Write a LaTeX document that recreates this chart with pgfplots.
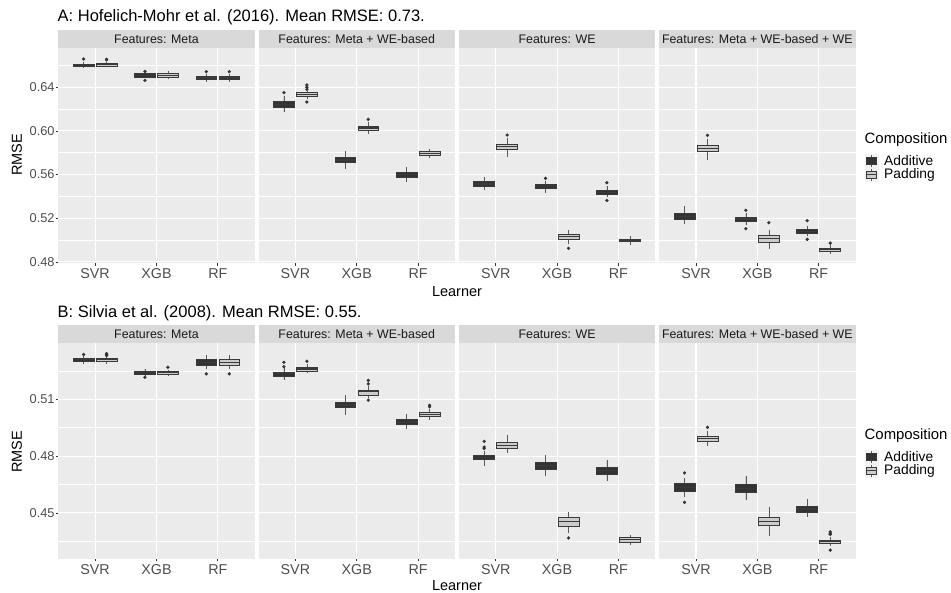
\documentclass[border=0pt]{standalone}
\usepackage{pgfplots}
\pgfplotsset{compat=1.18}
\usepgfplotslibrary{statistics}
\usepackage{fontspec}
\setmainfont{Liberation Sans}
\definecolor{panelbg}{HTML}{EBEBEB}
\definecolor{stripbg}{HTML}{D9D9D9}
\definecolor{ticktxt}{HTML}{4D4D4D}
\definecolor{tickcol}{HTML}{333333}
\definecolor{fillA}{HTML}{333333}
\definecolor{fillP}{HTML}{CCCCCC}
\definecolor{boxline}{HTML}{3A3A3A}
\definecolor{whisk}{HTML}{5A5A5A}
\definecolor{keybg}{HTML}{F2F2F2}
\pgfplotsset{
 panel/.style={
  scale only axis, width=196.3pt, xmin=0.4, xmax=3.6,
  xtick={1,2,3}, xticklabels={SVR,XGB,RF},
  axis background/.style={fill=panelbg},
  axis line style={draw=none},
  tick align=outside, major tick length=2.5pt, minor tick length=0pt,
  xtick pos=left, ytick pos=left,
  tick style={tickcol, line width=0.6pt},
  xmajorgrids, ymajorgrids, yminorgrids,
  major grid style={white, line width=1.1pt},
  minor grid style={white, line width=0.55pt},
  xticklabel style={font=\fontsize{14.3}{15}\selectfont, text=ticktxt, inner sep=0pt, yshift=-2.5pt},
  yticklabel style={font=\fontsize{12.8}{14}\selectfont, text=ticktxt, inner sep=0pt, xshift=-1pt},
  /pgf/number format/fixed, /pgf/number format/fixed zerofill,
  /pgf/number format/precision=2, /pgf/number format/assume math mode=true,
 },
 toprow/.style={panel, height=215.3pt, ymin=0.4787, ymax=0.6759,
   ytick={0.48,0.52,0.56,0.60,0.64}, minor ytick={0.50,0.54,0.58,0.62,0.66}},
 botrow/.style={panel, height=216pt, ymin=0.4257, ymax=0.5397,
   ytick={0.45,0.48,0.51}, minor ytick={0.435,0.465,0.495,0.525}},
 noyl/.style={yticklabels={}, ytick style={draw=none}},
 boxA/.style={draw=boxline, fill=fillA, line width=0.6pt, mark=*, mark size=1.5pt, mark options={draw=fillA, fill=fillA, solid, line width=0.3pt}},
 boxP/.style={draw=boxline, fill=fillP, line width=0.6pt, mark=*, mark size=1.5pt, mark options={draw=fillA, fill=fillA, solid, line width=0.3pt}},
}
\newcommand{\bp}[8]{\addplot[#1, boxplot prepared={draw direction=y, draw position=#2, lower whisker=#3, lower quartile=#4, median=#5, upper quartile=#6, upper whisker=#7, box extend=0.34, whisker extend=0, every median/.style={line width=1.2pt}, every whisker/.style={draw=whisk, line width=0.7pt}}] coordinates {#8};}
\newcommand{\strip}[3]{\fill[stripbg] (#1pt,#2pt) rectangle ++(196.3pt,17.5pt);
  \node[font=\fontsize{12.4}{13}\selectfont, text={black!90}] at ({#1pt+98.15pt},{#2pt+8.75pt}) {#3};}
\begin{document}
\begin{tikzpicture}
\useasboundingbox[fill=white] (0,0) rectangle (951pt,593pt);
% ---------------- Row A ----------------
\begin{axis}[toprow, at={(58.3pt,329.7pt)}, anchor=south west]
\bp{boxA}{0.8125}{.6576}{.6591}{.6603}{.6612}{.6631}{(0.8125,.6658)}
\bp{boxP}{1.1875}{.6582}{.6591}{.6606}{.6621}{.6631}{(1.1875,.6655)(1.1875,.6650)}
\bp{boxA}{1.8125}{.6484}{.6493}{.6508}{.6524}{.6536}{(1.8125,.6545)(1.8125,.6463)}
\bp{boxP}{2.1875}{.6478}{.6493}{.6508}{.6524}{.6545}{}
\bp{boxA}{2.8125}{.6450}{.6469}{.6484}{.6499}{.6521}{(2.8125,.6542)}
\bp{boxP}{3.1875}{.6450}{.6469}{.6484}{.6499}{.6521}{(3.1875,.6542)}
\end{axis}
\begin{axis}[toprow, noyl, at={(258.6pt,329.7pt)}, anchor=south west]
\bp{boxA}{0.8125}{.6173}{.6215}{.6243}{.6270}{.6322}{(0.8125,.6350)}
\bp{boxP}{1.1875}{.6290}{.6316}{.6334}{.6350}{.6365}{(1.1875,.6420)(1.1875,.6399)(1.1875,.6380)(1.1875,.6264)}
\bp{boxA}{1.8125}{.5654}{.5708}{.5733}{.5760}{.5812}{}
\bp{boxP}{2.1875}{.5971}{.6008}{.6026}{.6044}{.6081}{(2.1875,.6105)}
\bp{boxA}{2.8125}{.5536}{.5577}{.5599}{.5623}{.5669}{}
\bp{boxP}{3.1875}{.5748}{.5773}{.5794}{.5815}{.5836}{}
\end{axis}
\begin{axis}[toprow, noyl, at={(458.9pt,329.7pt)}, anchor=south west]
\bp{boxA}{0.8125}{.5455}{.5494}{.5513}{.5534}{.5574}{}
\bp{boxP}{1.1875}{.5764}{.5828}{.5855}{.5879}{.5934}{(1.1875,.5962)}
\bp{boxA}{1.8125}{.5428}{.5470}{.5489}{.5507}{.5544}{(1.8125,.5565)}
\bp{boxP}{2.1875}{.4964}{.5006}{.5031}{.5052}{.5089}{(2.1875,.4924)}
\bp{boxA}{2.8125}{.5397}{.5415}{.5437}{.5458}{.5495}{(2.8125,.5525)(2.8125,.5363)}
\bp{boxP}{3.1875}{.4958}{.4985}{.4997}{.5006}{.5037}{}
\end{axis}
\begin{axis}[toprow, noyl, at={(659.2pt,329.7pt)}, anchor=south west]
\bp{boxA}{0.8125}{.5147}{.5186}{.5217}{.5248}{.5309}{}
\bp{boxP}{1.1875}{.5733}{.5809}{.5837}{.5867}{.5928}{(1.1875,.5959)}
\bp{boxA}{1.8125}{.5141}{.5171}{.5193}{.5211}{.5244}{(1.8125,.5272)(1.8125,.5104)}
\bp{boxP}{2.1875}{.4918}{.4982}{.5012}{.5040}{.5089}{(2.1875,.5159)}
\bp{boxA}{2.8125}{.5034}{.5058}{.5080}{.5101}{.5132}{(2.8125,.5177)(2.8125,.5006)}
\bp{boxP}{3.1875}{.4875}{.4896}{.4912}{.4924}{.4951}{(3.1875,.4972)}
\end{axis}
% ---------------- Row B ----------------
\begin{axis}[botrow, at={(58.3pt,34pt)}, anchor=south west]
\bp{boxA}{0.8125}{.5288}{.5299}{.5308}{.5315}{.5327}{(0.8125,.5336)}
\bp{boxP}{1.1875}{.5288}{.5299}{.5308}{.5315}{.5327}{(1.1875,.5341)(1.1875,.5336)(1.1875,.5331)}
\bp{boxA}{1.8125}{.5225}{.5232}{.5241}{.5248}{.5260}{(1.8125,.5216)}
\bp{boxP}{2.1875}{.5225}{.5232}{.5241}{.5248}{.5257}{(2.1875,.5269)}
\bp{boxA}{2.8125}{.5260}{.5281}{.5295}{.5309}{.5336}{(2.8125,.5234)}
\bp{boxP}{3.1875}{.5260}{.5281}{.5295}{.5311}{.5336}{(3.1875,.5234)}
\end{axis}
\begin{axis}[botrow, noyl, at={(258.6pt,34pt)}, anchor=south west]
\bp{boxA}{0.8125}{.5204}{.5221}{.5234}{.5244}{.5265}{(0.8125,.5272)(0.8125,.5295)}
\bp{boxP}{1.1875}{.5241}{.5248}{.5260}{.5271}{.5288}{(1.1875,.5301)}
\bp{boxA}{1.8125}{.5019}{.5056}{.5070}{.5086}{.5123}{}
\bp{boxP}{2.1875}{.5109}{.5123}{.5139}{.5149}{.5169}{(2.1875,.5200)(2.1875,.5181)(2.1875,.5095)}
\bp{boxA}{2.8125}{.4945}{.4966}{.4980}{.4994}{.5024}{}
\bp{boxP}{3.1875}{.4993}{.5010}{.5021}{.5031}{.5049}{(3.1875,.5068)(3.1875,.5060)}
\end{axis}
\begin{axis}[botrow, noyl, at={(458.9pt,34pt)}, anchor=south west]
\bp{boxA}{0.8125}{.4750}{.4781}{.4792}{.4803}{.4825}{(0.8125,.4848)(0.8125,.4840)(0.8125,.4878)}
\bp{boxP}{1.1875}{.4817}{.4840}{.4857}{.4875}{.4913}{}
\bp{boxA}{1.8125}{.4697}{.4732}{.4750}{.4766}{.4804}{}
\bp{boxP}{2.1875}{.4394}{.4431}{.4454}{.4475}{.4505}{(2.1875,.4368)}
\bp{boxA}{2.8125}{.4669}{.4706}{.4723}{.4741}{.4780}{}
\bp{boxP}{3.1875}{.4331}{.4347}{.4359}{.4371}{.4385}{}
\end{axis}
\begin{axis}[botrow, noyl, at={(659.2pt,34pt)}, anchor=south west]
\bp{boxA}{0.8125}{.4584}{.4612}{.4634}{.4655}{.4685}{(0.8125,.4711)(0.8125,.4556)}
\bp{boxP}{1.1875}{.4855}{.4876}{.4891}{.4905}{.4931}{(1.1875,.4952)}
\bp{boxA}{1.8125}{.4570}{.4607}{.4630}{.4651}{.4693}{}
\bp{boxP}{2.1875}{.4377}{.4433}{.4456}{.4479}{.4530}{}
\bp{boxA}{2.8125}{.4479}{.4503}{.4521}{.4537}{.4574}{}
\bp{boxP}{3.1875}{.4327}{.4338}{.4348}{.4357}{.4371}{(3.1875,.4400)(3.1875,.4392)(3.1875,.4387)(3.1875,.4304)}
\end{axis}
% ---------------- strips ----------------
\strip{58.3}{545}{Features: Meta}
\strip{258.6}{545}{Features: Meta + WE-based}
\strip{458.9}{545}{Features: WE}
\strip{659.2}{545}{Features: Meta + WE-based + WE}
\strip{58.3}{250}{Features: Meta}
\strip{258.6}{250}{Features: Meta + WE-based}
\strip{458.9}{250}{Features: WE}
\strip{659.2}{250}{Features: Meta + WE-based + WE}
% ---------------- titles ----------------
\node[anchor=west, font=\fontsize{16.5}{18}\selectfont, inner sep=0pt] at (57.5pt,576pt) {A: Hofelich-Mohr et al. (2016). Mean RMSE: 0.73.};
\node[anchor=west, font=\fontsize{16.5}{18}\selectfont, inner sep=0pt] at (57.5pt,280pt) {B: Silvia et al. (2008). Mean RMSE: 0.55.};
\node[font=\fontsize{14.5}{16}\selectfont] at (457pt,301.5pt) {Learner};
\node[font=\fontsize{14.5}{16}\selectfont] at (457pt,7pt) {Learner};
\node[font=\fontsize{14.5}{16}\selectfont, rotate=90] at (17pt,438pt) {RMSE};
\node[font=\fontsize{14.5}{16}\selectfont, rotate=90] at (17pt,141pt) {RMSE};
% ---------------- legends ----------------
\foreach \ty in {453,157.3}{
  \node[anchor=west, font=\fontsize{14.9}{16}\selectfont, inner sep=0pt] at (864.5pt,\ty pt) {Composition};
  \fill[keybg] (864.5pt,{\ty pt-42pt}) rectangle ++(14pt,28pt);
  % Additive key
  \draw[whisk, line width=0.7pt] (871.5pt,{\ty pt-27pt}) -- ++(0,12pt);
  \filldraw[fill=fillA, draw=boxline, line width=0.6pt] (866.5pt,{\ty pt-24.5pt}) rectangle (876.5pt,{\ty pt-17.5pt});
  % Padding key
  \draw[whisk, line width=0.7pt] (871.5pt,{\ty pt-41pt}) -- ++(0,12pt);
  \filldraw[fill=fillP, draw=boxline, line width=0.6pt] (866.5pt,{\ty pt-38.5pt}) rectangle (876.5pt,{\ty pt-31.5pt});
  \draw[boxline, line width=1pt] (866.5pt,{\ty pt-35pt}) -- (876.5pt,{\ty pt-35pt});
  \node[anchor=west, font=\fontsize{13.8}{15}\selectfont, inner sep=0pt] at (884pt,{\ty pt-21pt}) {Additive};
  \node[anchor=west, font=\fontsize{13.8}{15}\selectfont, inner sep=0pt] at (884pt,{\ty pt-35pt}) {Padding};
}
\end{tikzpicture}
\end{document}
